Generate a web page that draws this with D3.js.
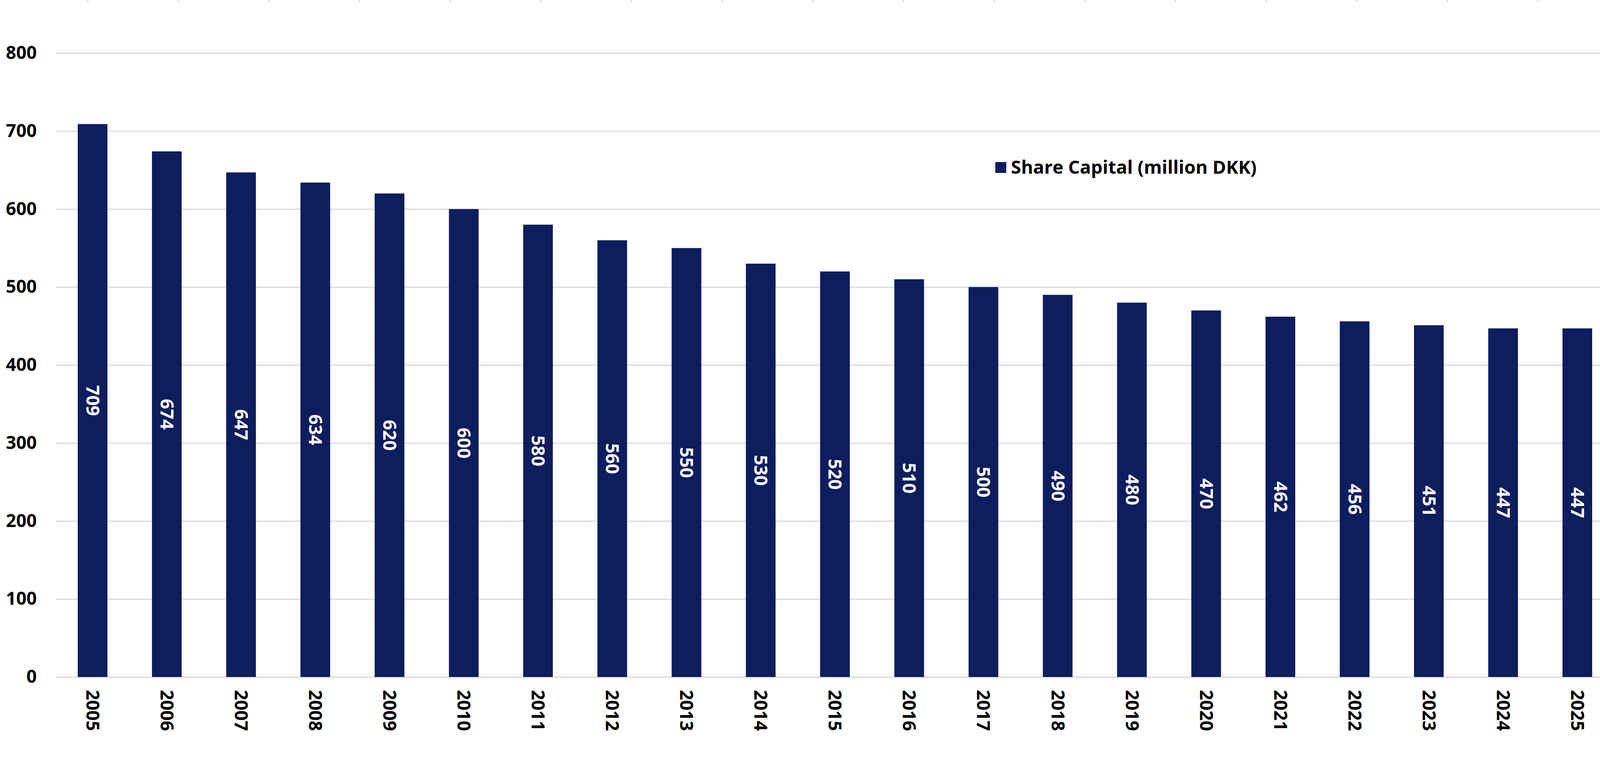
<!DOCTYPE html>
<html>
<head>
<meta charset="utf-8">
<script src="https://cdn.jsdelivr.net/npm/d3@7"></script>
<style>
  html, body { margin: 0; padding: 0; background: #fff; }
  svg { display: block; font-family: "Open Sans", sans-serif; font-weight: 700; }
</style>
</head>
<body>
<svg id="chart"></svg>
<script>
// chart values
const years = ["2005","2006","2007","2008","2009","2010","2011","2012","2013","2014","2015",
               "2016","2017","2018","2019","2020","2021","2022","2023","2024","2025"];
const shareCapital = [709, 674, 647, 634, 620, 600, 580, 560, 550, 530, 520,
                      510, 500, 490, 480, 470, 462, 456, 451, 447, 447];
const yTicks = [0, 100, 200, 300, 400, 500, 600, 700, 800];
const seriesName = "Share Capital (million DKK)";

const width = 4248, height = 1962;
const margin = { top: 136, right: 115, bottom: 228, left: 142 };
const barColor = "#0e1d5e";
const gridColor = "#d9d9d9";

const svg = d3.select('#chart')
    .attr('width', width)
    .attr('height', height);

// faint tick marks along the top edge (left over from the page the chart sits on)
const topTicks = d3.range(225, width, 232);
svg.append('g')
    .selectAll('line')
    .data(topTicks)
    .enter()
    .append('line')
    .attr('x1', d => d).attr('x2', d => d)
    .attr('y1', 0).attr('y2', 5)
    .attr('stroke', '#c8c8c8')
    .attr('stroke-width', 2);

const x = d3.scaleBand()
    .domain(years)
    .range([margin.left, width - margin.right])
    .paddingInner(0.6)
    .paddingOuter(0.3);

const y = d3.scaleLinear()
    .domain([0, 800])
    .range([height - margin.bottom, margin.top]);

// gridlines + y labels
const yAxis = svg.append('g')
    .attr('transform', `translate(${margin.left},0)`)
    .call(d3.axisLeft(y)
        .tickValues(yTicks)
        .tickSize(-(width - margin.left - margin.right))
        .tickPadding(48));
yAxis.select('.domain').remove();
yAxis.selectAll('.tick line')
    .attr('stroke', gridColor)
    .attr('stroke-width', 3);
yAxis.selectAll('.tick text')
    .attr('fill', '#000')
    .style('font-size', '46px')
    .style('font-family', '"Open Sans", sans-serif')
    .style('font-weight', 700);

// bars
svg.append('g')
    .selectAll('rect')
    .data(shareCapital)
    .enter()
    .append('rect')
    .attr('x', (d, i) => x(years[i]))
    .attr('y', d => y(d))
    .attr('width', x.bandwidth())
    .attr('height', d => y(0) - y(d))
    .attr('fill', barColor);

// value labels, rotated, centred inside the bars
svg.append('g')
    .selectAll('text')
    .data(shareCapital)
    .enter()
    .append('text')
    .attr('transform', (d, i) => `translate(${x(years[i]) + x.bandwidth() / 2},${(y(d) + y(0)) / 2}) rotate(90)`)
    .attr('text-anchor', 'middle')
    .attr('dy', '0.35em')
    .attr('fill', '#fff')
    .style('font-size', '46px')
    .text(d => d);

// x axis labels (rotated)
const xAxis = svg.append('g')
    .attr('transform', `translate(0,${y(0)})`)
    .call(d3.axisBottom(x).tickSize(0));
xAxis.select('.domain').remove();
xAxis.selectAll('.tick text')
    .attr('transform', 'rotate(90)')
    .attr('x', 33)
    .attr('y', 0)
    .attr('dy', '0.35em')
    .attr('text-anchor', 'start')
    .attr('fill', '#000')
    .style('font-size', '46px')
    .style('font-family', '"Open Sans", sans-serif')
    .style('font-weight', 700);

// legend
const legend = svg.append('g')
    .attr('transform', 'translate(2548,415)');
legend.append('rect')
    .attr('width', 28)
    .attr('height', 28)
    .attr('fill', barColor);
legend.append('text')
    .attr('x', 40)
    .attr('y', 14)
    .attr('dy', '0.35em')
    .attr('fill', '#000')
    .style('font-size', '47px')
    .text(seriesName);
</script>
</body>
</html>
